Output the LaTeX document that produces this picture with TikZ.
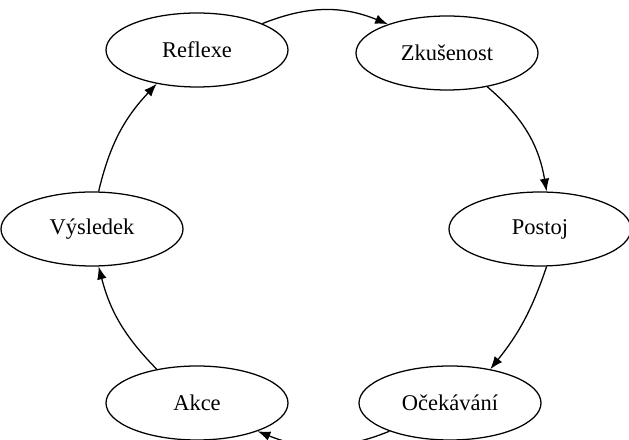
\documentclass[tikz,border=0pt]{standalone}
\usepackage{fontspec}
\setmainfont{Liberation Serif}
\usepackage{tikz}
\usetikzlibrary{positioning,arrows.meta,shapes.geometric}

\begin{document}
\begin{tikzpicture}[
    oval/.style={ellipse, draw, line width=0.9pt, minimum width=4.55cm, minimum height=1.85cm, inner sep=0pt, align=center, font=\fontsize{16}{19}\selectfont},
    link/.style={-{Latex[length=3.2mm, width=2.4mm]}, line width=0.9pt, bend left=#1},
    link/.default=18
]
\useasboundingbox (0,0) rectangle (15.725,11);

\node[oval] (refl) at (4.925,9.75)  {Reflexe};
\node[oval] (zkus) at (11.175,9.675) {Zkušenost};
\node[oval] (post) at (13.5,5.275)  {Postoj};
\node[oval] (ocek) at (11.25,0.925) {Očekávání};
\node[oval] (akce) at (4.925,0.925) {Akce};
\node[oval] (vysl) at (2.3,5.275)   {Výsledek};

% cyklus
\draw[link=22] (refl.22) to (zkus.154);
\draw[link=20] (zkus.-40) to (post.80);
\draw[link=10] (post.-80) to (ocek.40);
\draw[link=22] (ocek.205) to (akce.-25);
\draw[link=15] (akce.140) to (vysl.-80);
\draw[link=15] (vysl.80) to (refl.220);

\end{tikzpicture}
\end{document}
